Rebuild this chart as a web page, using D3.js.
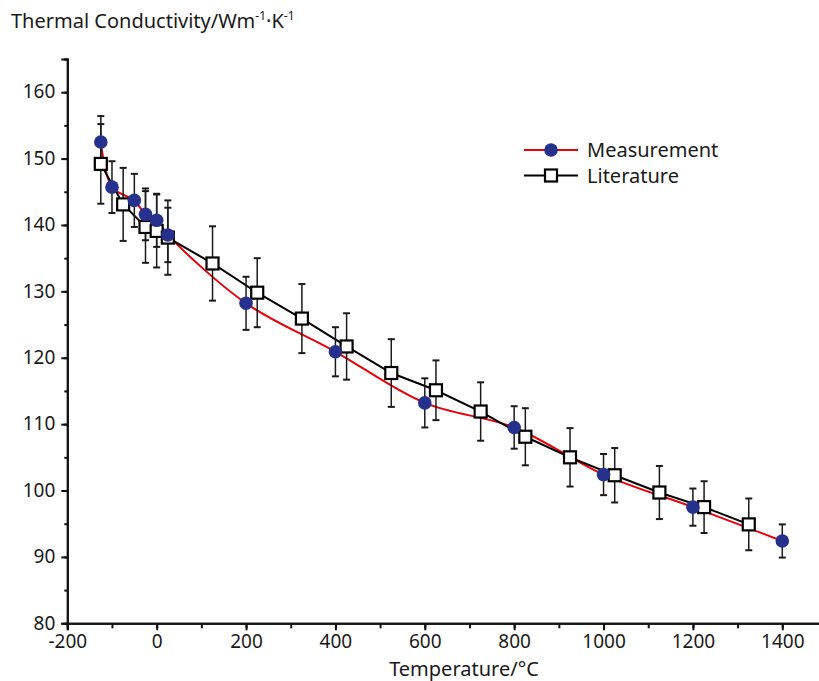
<!DOCTYPE html>
<html>
<head>
<meta charset="utf-8">
<script src="https://cdn.jsdelivr.net/npm/d3@7"></script>
<style>
  body { margin: 0; background: #fff; }
  text { font-family: "Noto Sans", "Open Sans", sans-serif; fill: #1a1a1a; }
</style>
</head>
<body>
<svg></svg>
<script>
const width = 819;
const height = 681;
const svg = d3.select("svg").attr("width", width).attr("height", height);

// measurement series
const measTemp = [-125, -100, -50, -25, 0, 25, 200, 400, 600, 800, 1000, 1200, 1400];
const measValue = [152.5, 145.7, 143.7, 141.6, 140.7, 138.5, 128.2, 120.9, 113.2, 109.5, 102.4, 97.5, 92.4];
const measError = [3.9, 3.9, 4.0, 3.9, 4.0, 4.1, 4.0, 3.7, 3.7, 3.2, 3.1, 2.8, 2.5];

// literature series
const litTemp = [-125, -75, -25, 0, 25, 125, 225, 325, 425, 525, 625, 725, 825, 925, 1025, 1125, 1225, 1325];
const litValue = [149.2, 143.1, 139.7, 139.1, 138.1, 134.2, 129.8, 125.9, 121.7, 117.7, 115.1, 111.9, 108.1, 105.0, 102.3, 99.7, 97.5, 94.9];
const litError = [6.0, 5.5, 5.4, 5.5, 5.6, 5.6, 5.2, 5.2, 5.0, 5.1, 4.5, 4.4, 4.3, 4.4, 4.1, 4.0, 3.9, 3.9];

const xTicks = [-200, 0, 200, 400, 600, 800, 1000, 1200, 1400];
const yTicks = [80, 90, 100, 110, 120, 130, 140, 150, 160];

const x = d3.scaleLinear().domain([-200, 1490]).range([67.3, 822.5]);
const y = d3.scaleLinear().domain([80, 165]).range([623.3, 59]);

const meas = measTemp.map((t, i) => ({ t, v: measValue[i], e: measError[i] }));
const lit = litTemp.map((t, i) => ({ t, v: litValue[i], e: litError[i] }));

// axes
const xMinor = d3.range(-200, 1490, 100);
const yMinor = d3.range(80, 166, 5);

const xAxisMinor = d3.axisBottom(x).tickValues(xMinor).tickSize(5).tickFormat("");
const xAxis = d3.axisBottom(x).tickValues(xTicks).tickSize(7).tickPadding(4).tickFormat(d => String(d));
const yAxisMinor = d3.axisLeft(y).tickValues(yMinor).tickSize(3).tickFormat("");
const yAxis = d3.axisLeft(y).tickValues(yTicks).tickSize(6).tickPadding(6);

function styleAxis(g) {
  g.select(".domain").attr("stroke", "#111").attr("stroke-width", 2);
  g.selectAll(".tick line").attr("stroke", "#111").attr("stroke-width", 2);
  g.selectAll(".tick text").style("font-size", "19px").attr("fill", "#1a1a1a")
    .style("font-family", '"Noto Sans", sans-serif');
}

svg.append("g").attr("transform", `translate(0,${y(80)})`).call(xAxisMinor).call(styleAxis);
svg.append("g").attr("transform", `translate(0,${y(80)})`).call(xAxis).call(styleAxis)
  .selectAll(".tick text").attr("dy", "0.7em");
svg.append("g").attr("transform", `translate(${x(-200)},0)`).call(yAxisMinor).call(styleAxis);
svg.append("g").attr("transform", `translate(${x(-200)},0)`).call(yAxis).call(styleAxis)
  .selectAll(".tick text").attr("dy", "0.3em");

// axis titles
const title = svg.append("text")
  .attr("x", 11)
  .attr("y", 28)
  .style("font-size", "20px");
title.append("tspan").text("Thermal Conductivity/Wm");
title.append("tspan").text("-1").style("font-size", "12px").attr("dy", -8);
title.append("tspan").text("·K").attr("dy", 8);
title.append("tspan").text("-1").style("font-size", "12px").attr("dy", -8);

svg.append("text")
  .attr("x", 464)
  .attr("y", 676)
  .attr("text-anchor", "middle")
  .style("font-size", "20px")
  .text("Temperature/°C");

// lines
const redLine = d3.line().x(d => x(d.t)).y(d => y(d.v)).curve(d3.curveCatmullRom.alpha(0.5));
const blackLine = d3.line().x(d => x(d.t)).y(d => y(d.v));

svg.append("path")
  .attr("d", redLine(meas))
  .attr("fill", "none")
  .attr("stroke", "#e8000b")
  .attr("stroke-width", 2);

svg.append("path")
  .attr("d", blackLine(lit))
  .attr("fill", "none")
  .attr("stroke", "#000")
  .attr("stroke-width", 2);

// error bars
function drawErrors(data) {
  const g = svg.append("g").attr("stroke", "#1a1a1a");
  data.forEach(d => {
    const cx = x(d.t);
    g.append("line")
      .attr("x1", cx).attr("x2", cx)
      .attr("y1", y(d.v + d.e)).attr("y2", y(d.v - d.e))
      .attr("stroke-width", 1.5);
    [d.v + d.e, d.v - d.e].forEach(val => {
      g.append("line")
        .attr("x1", cx - 3.5).attr("x2", cx + 3.5)
        .attr("y1", y(val)).attr("y2", y(val))
        .attr("stroke-width", 2);
    });
  });
}
drawErrors(meas);
drawErrors(lit);

// markers
svg.append("g").selectAll("rect")
  .data(lit)
  .join("rect")
  .attr("x", d => x(d.t) - 6)
  .attr("y", d => y(d.v) - 6)
  .attr("width", 12)
  .attr("height", 12)
  .attr("fill", "#fff")
  .attr("stroke", "#000")
  .attr("stroke-width", 2.2);

svg.append("g").selectAll("circle")
  .data(meas)
  .join("circle")
  .attr("cx", d => x(d.t))
  .attr("cy", d => y(d.v))
  .attr("r", 6.8)
  .attr("fill", "#25318c");

// legend
const legend = svg.append("g");
legend.append("line")
  .attr("x1", 524).attr("x2", 578).attr("y1", 150).attr("y2", 150)
  .attr("stroke", "#e8000b").attr("stroke-width", 2);
legend.append("circle")
  .attr("cx", 551).attr("cy", 150).attr("r", 6.8).attr("fill", "#25318c");
legend.append("text")
  .attr("x", 587).attr("y", 157).style("font-size", "20px").text("Measurement");

legend.append("line")
  .attr("x1", 524).attr("x2", 578).attr("y1", 175.5).attr("y2", 175.5)
  .attr("stroke", "#000").attr("stroke-width", 2);
legend.append("rect")
  .attr("x", 545).attr("y", 169.5).attr("width", 12).attr("height", 12)
  .attr("fill", "#fff").attr("stroke", "#000").attr("stroke-width", 2.2);
legend.append("text")
  .attr("x", 587).attr("y", 183).style("font-size", "20px").text("Literature");
</script>
</body>
</html>
